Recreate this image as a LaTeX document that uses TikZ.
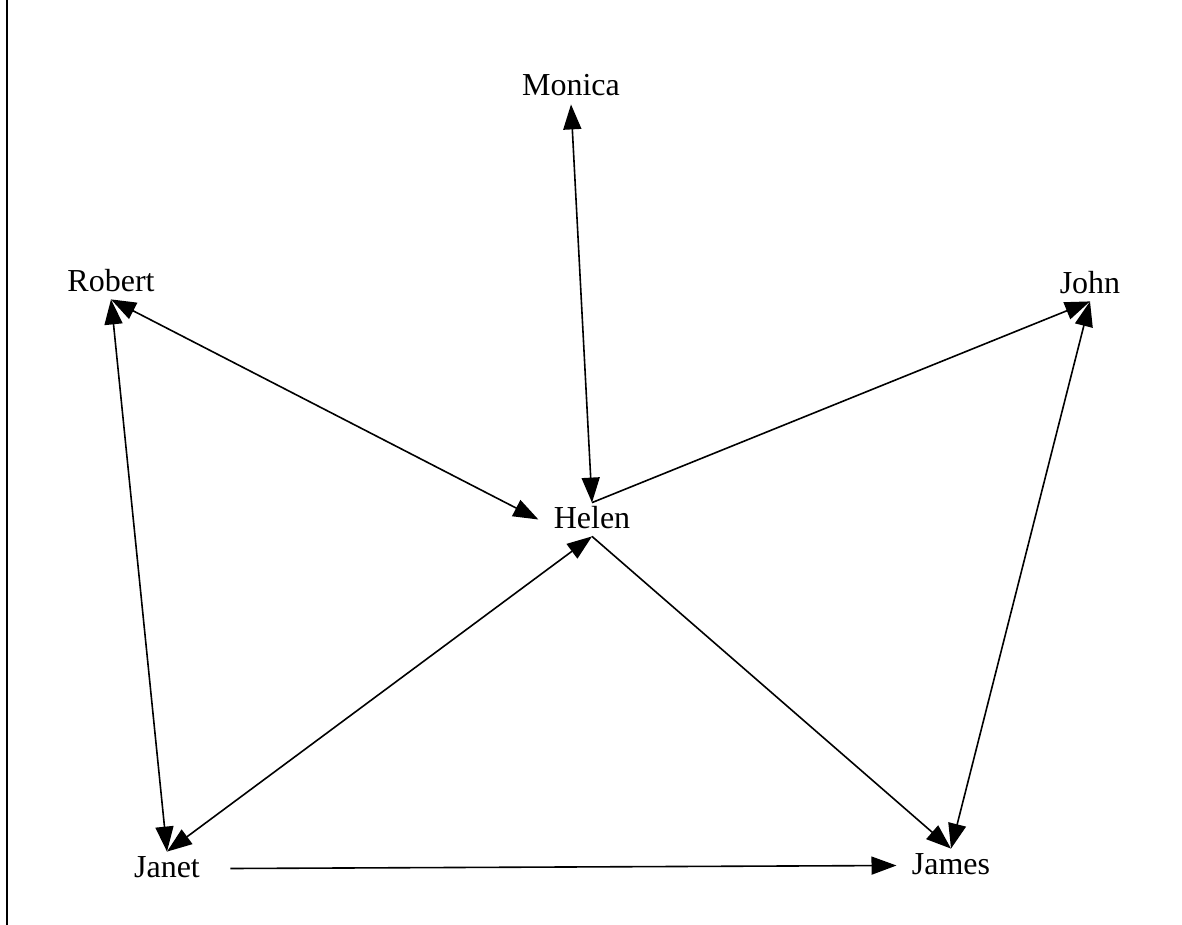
\documentclass[tikz,border=0pt]{standalone}
\usepackage{fontspec}
\setmainfont{Liberation Serif}
\usetikzlibrary{arrows.meta}
\tikzset{
  person/.style ={anchor=base, inner xsep=7.5pt, inner ysep=1pt,
                  text height=11.5pt, text depth=3pt,
                  font=\fontsize{16}{18}\selectfont},
  link/.style   ={-{Triangle[length=12.5pt,width=9pt]}, line width=0.8pt},
  bilink/.style ={{Triangle[length=12.5pt,width=9pt]}-{Triangle[length=12.5pt,width=9pt]},
                  line width=0.8pt},
  frame/.style  ={line width=1pt},
}
\begin{document}
\begin{tikzpicture}[x=0.5pt,y=-0.5pt]
  \useasboundingbox (0,0) rectangle (1182,925);
  \draw[frame] (6.5,0) -- (6.5,925);
  % people
  \node[person] (monica) at (571,96)  {Monica};
  \node[person] (robert) at (111,291) {Robert};
  \node[person] (john)   at (1090,293) {John};
  \node[person] (helen)  at (592,528) {Helen};
  \node[person, inner xsep=15pt] (janet) at (167,877) {Janet};
  \node[person] (james)  at (951,874) {James};
  % relations
  \draw[bilink] (monica.south) -- (helen.north);
  \draw[bilink] (robert.south) -- (helen.west);
  \draw[bilink] (robert.south) -- (janet.north);
  \draw[link]   (helen.north) -- (john.south);
  \draw[link]   (helen.south) -- (james.north);
  \draw[bilink] (janet.north) -- (helen.south);
  \draw[bilink] (john.south) -- (james.north);
  \draw[link]   (janet.east) -- (james.west);
\end{tikzpicture}
\end{document}
